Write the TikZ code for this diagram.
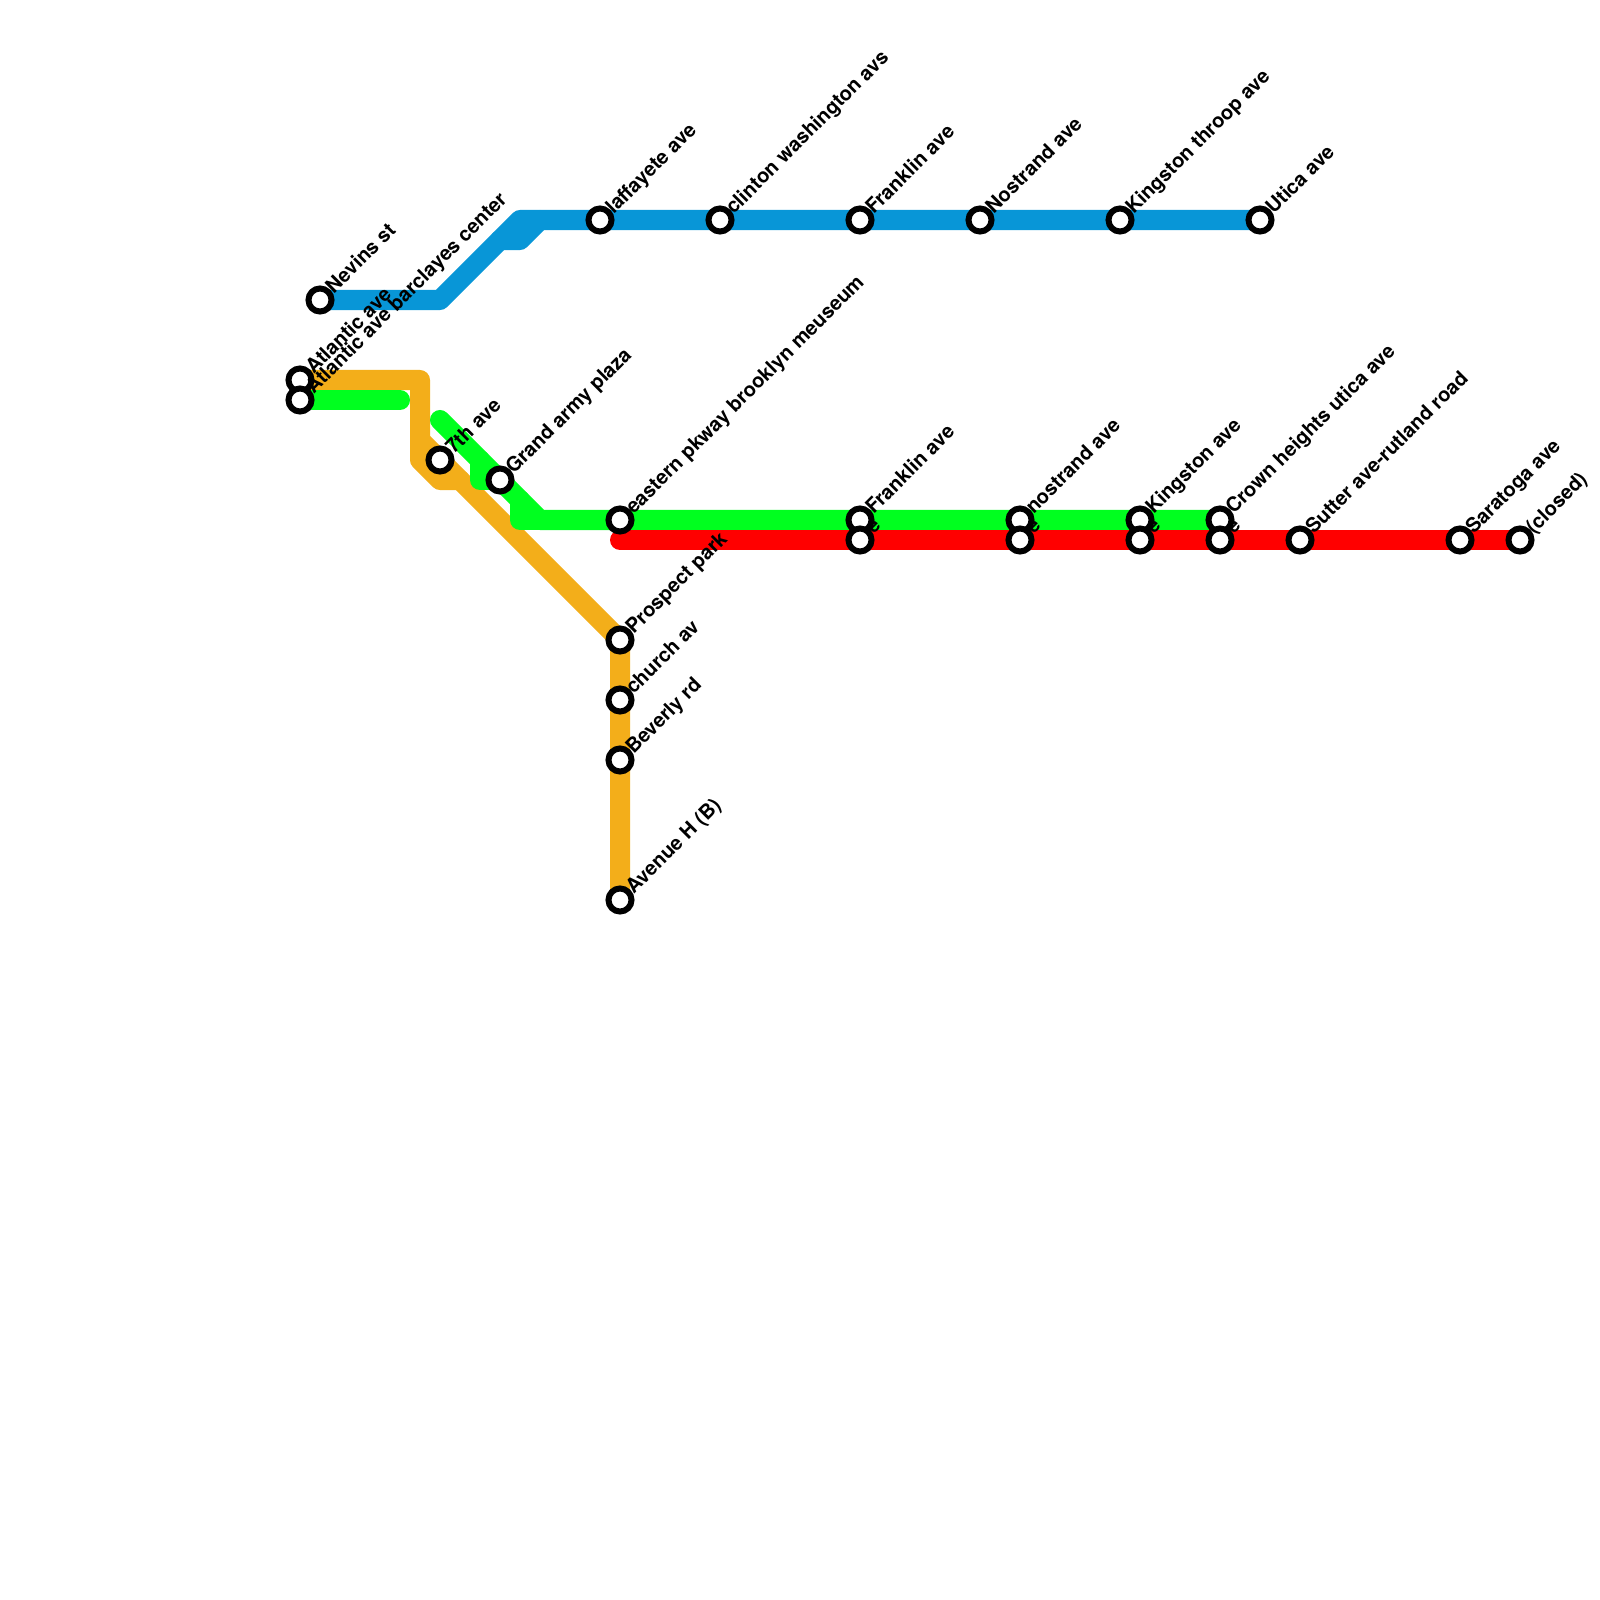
\documentclass[tikz,border=0pt]{standalone}
\usepackage{fontspec}
\setmainfont{TeX Gyre Heros}
\usepackage{tikz}
\usetikzlibrary{backgrounds}
\definecolor{line_blue_col}{HTML}{0896D7}
\definecolor{line_orange_col}{HTML}{F3AE1A}
\definecolor{line_green_col}{HTML}{00FF1F}
\definecolor{line_red_col}{HTML}{FF0000}
\tikzset{
    station/.style={
        circle, draw=black, fill=white, line width=0.06cm, inner sep=0pt, minimum size=0.23cm
    },
    stn_label/.style={
        xshift=0.133cm, yshift=0.046cm, rotate=45, anchor=base west, inner sep=0pt,
        font=\fontsize{5.7}{6}\selectfont\bfseries, text=black
    },
    metro_line/.style={
        line width=0.2cm, line cap=round, line join=round
    },
    line_blue/.style={metro_line, draw=line_blue_col},
    line_orange/.style={metro_line, draw=line_orange_col},
    line_green/.style={metro_line, draw=line_green_col},
    line_red/.style={metro_line, draw=line_red_col}
}
\begin{document}
\begin{tikzpicture}[x=0.01cm, y=-0.01cm]
    \useasboundingbox (0, 0) rectangle (1600, 1600);

    % Blue line stations
    \node[station] (nevins) at (320, 300) {};
    \node[station] (lafayette) at (600, 220) {};
    \node[station] (clinton) at (720, 220) {};
    \node[station] (franklin_blue) at (860, 220) {};
    \node[station] (nostrand_blue) at (980, 220) {};
    \node[station] (kingston_blue) at (1120, 220) {};
    \node[station] (utica) at (1260, 220) {};

    % Orange line stations
    \node[station] (atlantic_orange) at (300, 380) {};
    \node[station] (seventh) at (440, 460) {};
    \node[station] (prospect) at (620, 640) {};
    \node[station] (church) at (620, 700) {};
    \node[station] (beverly) at (620, 760) {};
    \node[station] (avenue_h) at (620, 900) {};

    % Green line stations
    \node[station] (atlantic_green) at (300, 400) {};
    \node[station] (grand_army) at (500, 480) {};
    \node[station] (eastern) at (620, 520) {};
    \node[station] (franklin_green) at (860, 520) {};
    \node[station] (nostrand_green) at (1020, 520) {};
    \node[station] (kingston_green) at (1140, 520) {};
    \node[station] (crown_green) at (1220, 520) {};

    % Red line stations
    \node[station] (franklin_red) at (860, 540) {};
    \node[station] (nostrand_red) at (1020, 540) {};
    \node[station] (kingston_red) at (1140, 540) {};
    \node[station] (crown_red) at (1220, 540) {};
    \node[station] (sutter) at (1300, 540) {};
    \node[station] (saratoga) at (1460, 540) {};
    \node[station] (closed) at (1520, 540) {};

    % Labels
    \node[stn_label] (nevins_lbl) at (nevins) {Nevins st};
    \node[stn_label] (lafayette_lbl) at (lafayette) {laffayete ave};
    \node[stn_label] (clinton_lbl) at (clinton) {clinton washington avs};
    \node[stn_label] (franklin_blue_lbl) at (franklin_blue) {Franklin ave};
    \node[stn_label] (nostrand_blue_lbl) at (nostrand_blue) {Nostrand ave};
    \node[stn_label] (kingston_blue_lbl) at (kingston_blue) {Kingston throop ave};
    \node[stn_label] (utica_lbl) at (utica) {Utica ave};
    \node[stn_label] (atlantic_orange_lbl) at (atlantic_orange) {Atlantic ave};
    \node[stn_label] (atlantic_green_lbl) at (atlantic_green) {Atlantic ave barclayes center};
    \node[stn_label] (seventh_lbl) at (seventh) {7th ave};
    \node[stn_label] (grand_army_lbl) at (grand_army) {Grand army plaza};
    \node[stn_label] (eastern_lbl) at (eastern) {eastern pkway brooklyn meuseum};
    \node[stn_label] (franklin_green_lbl) at (franklin_green) {Franklin ave};
    \node[stn_label] (nostrand_green_lbl) at (nostrand_green) {nostrand ave};
    \node[stn_label] (kingston_green_lbl) at (kingston_green) {Kingston ave};
    \node[stn_label] (crown_green_lbl) at (crown_green) {Crown heights utica ave};
    \node[stn_label] (franklin_red_lbl) at (franklin_red) {e};
    \node[stn_label] (nostrand_red_lbl) at (nostrand_red) {e};
    \node[stn_label] (kingston_red_lbl) at (kingston_red) {e};
    \node[stn_label] (crown_red_lbl) at (crown_red) {e};
    \node[stn_label] (sutter_lbl) at (sutter) {Sutter ave-rutland road};
    \node[stn_label] (saratoga_lbl) at (saratoga) {Saratoga ave};
    \node[stn_label] (closed_lbl) at (closed) {(closed)};
    \node[stn_label] (prospect_lbl) at (prospect) {Prospect park};
    \node[stn_label] (church_lbl) at (church) {church av};
    \node[stn_label] (beverly_lbl) at (beverly) {Beverly rd};
    \node[stn_label] (avenue_h_lbl) at (avenue_h) {Avenue H (B)};

    % Bends of the lines
    \coordinate (blue_a) at (440, 300);
    \coordinate (blue_b) at (520, 220);
    \coordinate (blue_c) at (500, 240);
    \coordinate (blue_d) at (520, 240);
    \coordinate (blue_e) at (540, 220);
    \coordinate (orange_a) at (420, 380);
    \coordinate (orange_b) at (420, 460);
    \coordinate (orange_c) at (440, 480);
    \coordinate (orange_d) at (460, 480);
    \coordinate (orange_e) at (420, 440);
    \coordinate (green_a) at (400, 400);
    \coordinate (green_b) at (440, 420);
    \coordinate (green_c) at (540, 520);
    \coordinate (green_d) at (480, 460);
    \coordinate (green_e) at (480, 480);
    \coordinate (green_f) at (520, 500);
    \coordinate (green_g) at (520, 520);
    \coordinate (red_start) at (620, 540);

    \begin{pgfonlayer}{background}
        \draw[line_blue] (nevins.center) -- (blue_a) -- (blue_b) -- (utica.center);
        \draw[line_blue] (blue_c) -- (blue_d) -- (blue_e);
        \draw[line_orange] (atlantic_orange.center) -- (orange_a) -- (orange_b) -- (orange_c) -- (orange_d);
        \draw[line_orange] (orange_e) -- (prospect.center) -- (avenue_h.center);
        \draw[line_green] (atlantic_green.center) -- (green_a);
        \draw[line_green] (green_b) -- (green_c) -- (crown_green.center);
        \draw[line_green] (green_d) -- (green_e) -- (grand_army.center);
        \draw[line_green] (green_f) -- (green_g) -- (green_c);
        \draw[line_red] (red_start) -- (closed.center);
    \end{pgfonlayer}
\end{tikzpicture}
\end{document}
